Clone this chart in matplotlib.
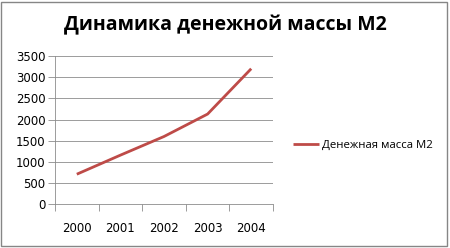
import matplotlib.pyplot as plt
from matplotlib.patches import Rectangle

years = ['2000', '2001', '2002', '2003', '2004']
m2 = [710, 1160, 1600, 2130, 3200]
series_name = 'Денежная масса М2'
title = 'Динамика денежной массы М2'

fig = plt.figure(figsize=(4.5, 2.48), dpi=100)
W, H = 450, 248
ax = fig.add_axes([55 / W, 1 - 204.3 / H, (273 - 55) / W, (204.3 - 56) / H])

x = list(range(len(years)))
ax.plot(x, m2, color='#BE4B48', lw=2, solid_capstyle='butt', label=series_name)

ax.set_xlim(-0.5, len(years) - 0.5)
ax.set_ylim(0, 3500)
ax.set_yticks(range(0, 3501, 500))
ax.yaxis.grid(True, color='#8c8c8c', lw=0.6)
ax.set_axisbelow(True)
ax.set_xticks([i - 0.5 for i in range(len(years) + 1)], minor=False)
ax.set_xticklabels([])
ax.set_xticks(x, minor=True)
ax.set_xticklabels(years, minor=True)
ax.tick_params(axis='x', which='major', length=5, color='#8c8c8c', width=0.6)
ax.tick_params(axis='x', which='minor', length=0, pad=13, labelsize=8.5)
ax.tick_params(axis='y', length=5, color='#8c8c8c', width=0.6, labelsize=8.5, pad=2)
for s in ['top', 'right']:
    ax.spines[s].set_visible(False)
for s in ['left', 'bottom']:
    ax.spines[s].set_color('#8c8c8c')
    ax.spines[s].set_linewidth(0.6)

fig.text(225 / W, 1 - 25 / H, title, ha='center', va='center',
         fontsize=14, fontweight='bold', family=['Open Sans', 'DejaVu Sans'])

leg = fig.legend(loc='center left', bbox_to_anchor=(283 / W, 1 - 145 / H),
                 frameon=False, handlelength=2.3, handletextpad=0.2,
                 prop={'family': ['Open Sans', 'DejaVu Sans'], 'size': 8.2})

fig.patches.append(Rectangle((1 / W, 2 / H), 446 / W, 244 / H, transform=fig.transFigure,
                             fill=False, edgecolor='#868686', lw=1))

fig.savefig('out.png', dpi=100)
